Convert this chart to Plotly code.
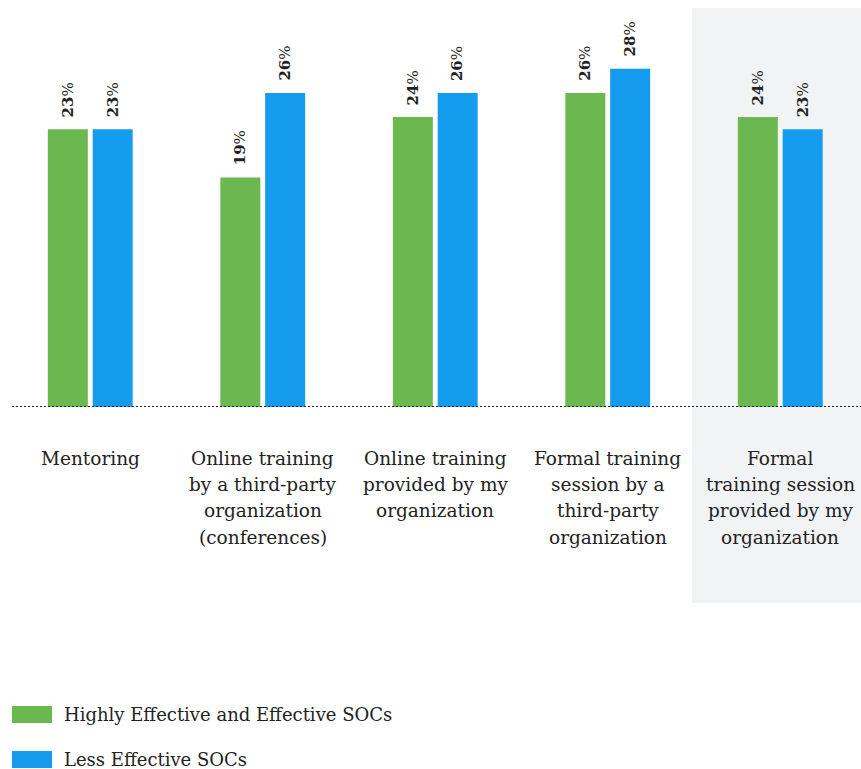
import plotly.graph_objects as go

# Survey results: share of respondents per training type
categories = [
    "Mentoring",
    "Online training<br>by a third-party<br>organization<br>(conferences)",
    "Online training<br>provided by my<br>organization",
    "Formal training<br>session by a<br>third-party<br>organization",
    "Formal<br>training session<br>provided by my<br>organization",
]
series_names = ["Highly Effective and Effective SOCs", "Less Effective SOCs"]
effective = [23, 19, 24, 26, 24]
less_effective = [23, 26, 26, 28, 23]

GREEN = "#6AB84F"
BLUE = "#159CEE"
TEXT = "#222222"
SHADE = "#F2F3F5"
FONT = "DejaVu Serif"

W, H = 861, 769
ML, MT = 4, 0
PW, PH = 857, 407          # plot area in pixels
CAT_PX = 172.5             # pixels per category
X_RANGE = [-0.5, -0.5 + PW / CAT_PX]
Y_MAX = PH / 12.08          # pixels per percentage point
OFF = 0.13                  # half distance between paired bars (data units)
BW = 40 / CAT_PX            # bar width (data units)
LINE_H = 26.5               # line spacing of category labels (px)


def py(p):
    """pixel row -> paper y"""
    return (MT + PH - p) / PH


def px(p):
    """pixel column -> paper x"""
    return (p - ML) / PW


idx = list(range(len(categories)))
fig = go.Figure()
for vals, color, shift, name in [
    (effective, GREEN, -OFF, series_names[0]),
    (less_effective, BLUE, OFF, series_names[1]),
]:
    xs = [i + shift for i in idx]
    fig.add_trace(go.Bar(
        x=xs, y=vals, width=BW, marker=dict(color=color, line=dict(width=0)),
        name=name, showlegend=False, hoverinfo="skip",
    ))
    for x, v in zip(xs, vals):
        fig.add_annotation(
            x=x, y=v, xref="x", yref="y",
            text=f"<b>{v}</b>%", textangle=-90,
            xanchor="center", yanchor="bottom", yshift=10,
            showarrow=False, font=dict(family=FONT, size=15, color=TEXT),
        )

# category labels below the baseline, one annotation per line
for i, label in zip(idx, categories):
    for n, line in enumerate(label.split("<br>")):
        fig.add_annotation(
            x=i, y=py(458 + n * LINE_H), xref="x", yref="paper", text=line,
            xanchor="center", yanchor="middle", showarrow=False,
            font=dict(family=FONT, size=18.5, color=TEXT),
        )

# highlighted last category
fig.add_shape(type="rect", xref="paper", yref="paper", layer="below",
              x0=px(692), x1=px(866), y0=py(603), y1=py(8),
              fillcolor=SHADE, line=dict(width=0))

# dotted baseline
fig.add_shape(type="line", xref="paper", yref="y", x0=px(12), x1=px(861), y0=0, y1=0,
              line=dict(color="#222222", width=2, dash="2px,2px"))

# legend
for k, (name, color) in enumerate(zip(series_names, [GREEN, BLUE])):
    top = 706 + 45 * k
    fig.add_shape(type="rect", xref="paper", yref="paper",
                  x0=px(12), x1=px(52), y0=py(top + 17), y1=py(top),
                  fillcolor=color, line=dict(width=0))
    fig.add_annotation(
        x=px(62), y=py(top + 8.5), xref="paper", yref="paper", text=name,
        xanchor="left", yanchor="middle", showarrow=False,
        font=dict(family=FONT, size=18, color=TEXT),
    )

fig.update_layout(
    width=W, height=H,
    margin=dict(l=ML, r=W - ML - PW, t=MT, b=H - MT - PH),
    plot_bgcolor="rgba(0,0,0,0)", paper_bgcolor="white",
    xaxis=dict(range=X_RANGE, visible=False, fixedrange=True),
    yaxis=dict(range=[0, Y_MAX], visible=False, fixedrange=True),
    barmode="overlay",
)

fig.write_html("out.html")
